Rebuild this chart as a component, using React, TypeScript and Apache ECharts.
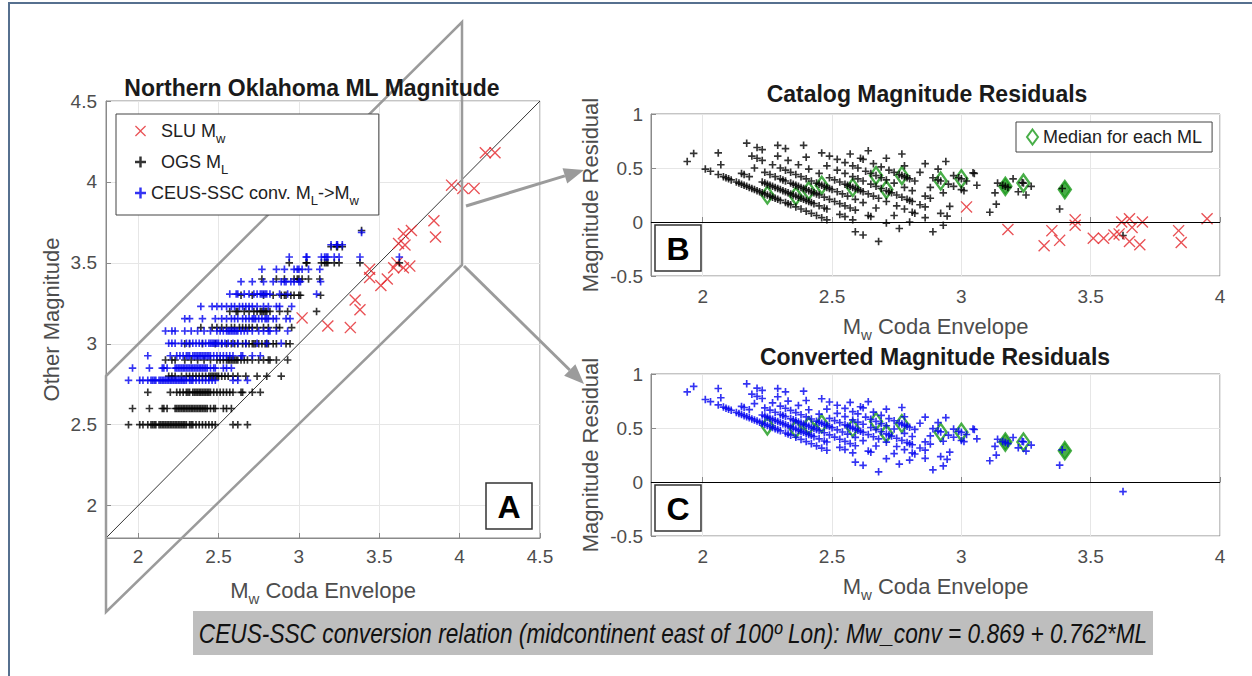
import React, { useEffect, useRef } from 'react';
import * as echarts from 'echarts';

// ---------------- DATA ----------------
// OGS local magnitude levels and their CEUS-SSC converted values (blue rows in panel A)
const mlLevels = [2.5, 2.6, 2.7, 2.8, 2.9, 3.0, 3.1, 3.2, 3.3, 3.4, 3.5, 3.6, 3.7];
const convLevels = [2.774, 2.85, 2.926, 3.003, 3.079, 3.155, 3.231, 3.307, 3.384, 3.46, 3.536, 3.612, 3.688];

// Mw coda envelope of the events for each ML level
const mwAtML25 = [1.94, 2.01, 2.03, 2.06, 2.08, 2.09, 2.1, 2.11, 2.13, 2.14, 2.15, 2.16, 2.17, 2.18, 2.19, 2.2, 2.21, 2.22, 2.23, 2.24, 2.25, 2.26, 2.27, 2.28, 2.29, 2.3, 2.32, 2.33, 2.34, 2.36, 2.38, 2.4, 2.42, 2.44, 2.46, 2.48, 2.59, 2.62, 2.68];
const mwAtML26 = [1.965, 2.07, 2.15, 2.16, 2.18, 2.23, 2.24, 2.25, 2.26, 2.27, 2.28, 2.29, 2.3, 2.31, 2.32, 2.33, 2.34, 2.35, 2.36, 2.37, 2.38, 2.39, 2.4, 2.41, 2.42, 2.43, 2.45, 2.47, 2.48, 2.53, 2.55, 2.58];
const mwAtML27 = [2.06, 2.2, 2.24, 2.26, 2.28, 2.3, 2.31, 2.32, 2.34, 2.35, 2.36, 2.37, 2.38, 2.39, 2.4, 2.41, 2.42, 2.43, 2.44, 2.45, 2.47, 2.49, 2.51, 2.53, 2.55, 2.57, 2.59, 2.64, 2.65, 2.71, 2.76];
const mwAtML28 = [2.19, 2.21, 2.23, 2.27, 2.3, 2.32, 2.34, 2.36, 2.38, 2.4, 2.42, 2.44, 2.45, 2.46, 2.47, 2.48, 2.49, 2.5, 2.52, 2.54, 2.56, 2.59, 2.62, 2.67, 2.74, 2.8, 2.89];
const mwAtML29 = [2.17, 2.21, 2.23, 2.29, 2.33, 2.37, 2.41, 2.45, 2.49, 2.51, 2.53, 2.55, 2.56, 2.57, 2.58, 2.59, 2.6, 2.61, 2.62, 2.64, 2.66, 2.68, 2.71, 2.75, 2.78, 2.81, 2.82, 2.86, 2.93];
const mwAtML30 = [2.29, 2.32, 2.4, 2.48, 2.52, 2.55, 2.58, 2.6, 2.62, 2.65, 2.67, 2.69, 2.71, 2.72, 2.73, 2.75, 2.77, 2.79, 2.8, 2.81, 2.84, 2.86, 2.92, 2.945];
const mwAtML31 = [2.39, 2.46, 2.49, 2.52, 2.55, 2.58, 2.6, 2.63, 2.65, 2.67, 2.69, 2.71, 2.74, 2.78, 2.81, 2.86, 2.88, 2.955];
const mwAtML32 = [2.57, 2.61, 2.62, 2.66, 2.69, 2.72, 2.74, 2.76, 2.77, 2.78, 2.79, 2.8, 2.82, 2.88, 2.93, 3.11];
const mwAtML33 = [2.64, 2.71, 2.78, 2.84, 2.89, 2.91, 2.92, 2.95, 2.97, 3.0, 3.01, 3.135];
const mwAtML34 = [2.77, 2.86, 2.91, 2.97, 2.99, 3.0, 3.02, 3.06, 3.13];
const mwAtML35 = [2.94, 3.045, 3.05, 3.14, 3.16, 3.17, 3.18, 3.22, 3.25, 3.38, 3.625];
const mwAtML36 = [3.2, 3.235, 3.24, 3.27];
const mwAtML37 = [3.39];
const mwByLevel = [mwAtML25, mwAtML26, mwAtML27, mwAtML28, mwAtML29, mwAtML30, mwAtML31, mwAtML32, mwAtML33, mwAtML34, mwAtML35, mwAtML36, mwAtML37];

// SLU moment magnitudes vs Mw coda envelope
const sluCoda = [3.02, 3.18, 3.32, 3.35, 3.38, 3.44, 3.44, 3.51, 3.55, 3.59, 3.61, 3.62, 3.65, 3.65, 3.66, 3.69, 3.7, 3.84, 3.85, 3.95, 4.02, 4.09, 4.16, 4.22];
const sluMw = [3.16, 3.11, 3.1, 3.27, 3.21, 3.46, 3.41, 3.36, 3.4, 3.47, 3.5, 3.62, 3.68, 3.47, 3.61, 3.48, 3.7, 3.76, 3.66, 3.98, 3.96, 3.96, 4.18, 4.18];

// Median residual for each ML
const medianMw = [2.25, 2.36, 2.41, 2.46, 2.58, 2.71, 2.67, 2.77, 2.92, 3.0, 3.17, 3.24, 3.4];
const medianResCatalog = [0.25, 0.24, 0.29, 0.34, 0.32, 0.3, 0.43, 0.43, 0.38, 0.4, 0.33, 0.36, 0.3];
const medianResConverted = [0.52, 0.49, 0.52, 0.54, 0.5, 0.45, 0.56, 0.54, 0.46, 0.46, 0.37, 0.37, 0.29];
const medianFilled = [false, false, false, false, false, false, false, false, false, false, true, false, true];

const oneToOne = [1.8, 4.5];
const zeroLevel = [0];

// ---------------- STYLE ----------------
const FONT = '"Liberation Sans", Arial, Helvetica, sans-serif';
const PLUS = 'path://M2.8 0H4.4V2.8H7.2V4.4H4.4V7.2H2.8V4.4H0V2.8H2.8Z';
const CROSS = 'path://M0 0.8L0.8 0L5 4.2L9.2 0L10 0.8L5.8 5L10 9.2L9.2 10L5 5.8L0.8 10L0 9.2L4.2 5Z';
const RED = '#e3262b';
const BLUE = '#0000f0';
const GREEN = '#1a9a1a';
const AXC = '#8a8a8a';
const LBL = '#4d4d4d';

const r3 = (v: number) => Math.round(v * 1000) / 1000;
const fmt = (v: number) => (Math.abs(v - 1.8) < 1e-6 ? '' : String(r3(v)));

function subRich(size: number) {
  return {
    m: { fontSize: size, fontFamily: FONT, color: LBL, lineHeight: size + 10, verticalAlign: 'middle' },
    s: { fontSize: Math.round(size * 0.68), fontFamily: FONT, color: LBL, lineHeight: size + 10, verticalAlign: 'bottom' },
  };
}

function valAxis(gridIndex: number, min: number, max: number, extra: any) {
  return {
    type: 'value',
    gridIndex,
    min,
    max,
    ...extra,
    axisLine: { show: true, lineStyle: { color: AXC, width: 1 } },
    axisTick: { show: true, inside: true, length: 5, lineStyle: { color: AXC } },
    splitLine: { show: true, lineStyle: { color: '#e6e6e6', width: 1 } },
    axisLabel: { fontSize: 19, color: LBL, fontFamily: FONT, margin: 9, formatter: fmt, ...(extra.axisLabel || {}) },
    nameTextStyle: { rich: subRich(22), fontSize: 22, color: LBL, fontFamily: FONT },
  };
}

function arrow(from: number[], to: number[]) {
  const dx = to[0] - from[0];
  const dy = to[1] - from[1];
  const len = Math.sqrt(dx * dx + dy * dy);
  const ux = dx / len;
  const uy = dy / len;
  const bx = to[0] - ux * 20;
  const by = to[1] - uy * 20;
  const px = -uy * 8;
  const py = ux * 8;
  return [
    { type: 'line', shape: { x1: from[0], y1: from[1], x2: bx, y2: by }, style: { stroke: '#9b9b9b', lineWidth: 3 }, z: 60 },
    { type: 'polygon', shape: { points: [[to[0], to[1]], [bx + px, by + py], [bx - px, by - py]] }, style: { fill: '#9b9b9b' }, z: 60 },
  ];
}

function letterBox(x: number, y: number, letter: string) {
  return [
    { type: 'rect', shape: { x, y, width: 46, height: 46 }, style: { fill: '#fff', stroke: '#333', lineWidth: 1.5 }, z: 70 },
    {
      type: 'text', x: x + 23, y: y + 24, z: 71,
      style: { text: letter, font: `bold 32px ${FONT}`, fill: '#000', align: 'center', verticalAlign: 'middle', textAlign: 'center', textVerticalAlign: 'middle' },
    },
  ];
}

function title(x: number, y: number, text: string) {
  return {
    type: 'text', x, y, z: 70,
    style: { text, font: `bold 23px ${FONT}`, fill: '#1a1a1a', align: 'center', verticalAlign: 'middle', textAlign: 'center', textVerticalAlign: 'middle' },
  };
}

export default function App() {
  const ref = useRef<HTMLDivElement>(null);

  useEffect(() => {
    document.body.style.margin = '0';
    const chart = echarts.init(ref.current!, null, { renderer: 'svg' });

    const ogsA: number[][] = [];
    const ceusA: number[][] = [];
    const ogsB: number[][] = [];
    const ceusC: number[][] = [];
    mwByLevel.forEach((arr, i) => {
      arr.forEach((mw) => {
        ogsA.push([mw, mlLevels[i]]);
        ceusA.push([mw, convLevels[i]]);
        ogsB.push([mw, r3(mlLevels[i] - mw)]);
        ceusC.push([mw, r3(convLevels[i] - mw)]);
      });
    });
    const sluA = sluCoda.map((c, i) => [c, sluMw[i]]);
    const sluB = sluCoda.map((c, i) => [c, r3(sluMw[i] - c)]);
    const medItems = (res: number[]) =>
      medianMw.map((m, i) => ({
        value: [m, res[i]],
        itemStyle: medianFilled[i] ? { color: GREEN, borderColor: GREEN } : undefined,
      }));

    const zeroMark = {
      silent: true,
      symbol: 'none',
      label: { show: false },
      lineStyle: { color: '#000', width: 1, type: 'solid' },
      data: zeroLevel.map((v) => ({ yAxis: v })),
    };

    const medianStyle = { color: 'rgba(255,255,255,0)', borderColor: GREEN, borderWidth: 2.5 };

    const legendLabels: Record<string, string> = {
      'SLU Mw': '{m|  SLU M}{s|w}',
      'OGS ML': '{m|  OGS M}{s|L}',
      'CEUS-SSC conv. ML->Mw': '{m|CEUS-SSC conv. M}{s|L}{m|->M}{s|w}',
    };
    const legRich = {
      m: { fontSize: 18, fontFamily: FONT, color: '#222', lineHeight: 28, verticalAlign: 'middle' },
      s: { fontSize: 13, fontFamily: FONT, color: '#222', lineHeight: 28, verticalAlign: 'bottom' },
    };

    const graphics: any[] = [
      { type: 'polyline', shape: { points: [[9, 676], [9, 3], [1252, 3]] }, style: { stroke: '#56708f', lineWidth: 2, fill: 'none' }, z: 10 },
      { type: 'polygon', shape: { points: [[106, 376], [462, 22], [462, 265], [106, 612]] }, style: { fill: 'none', stroke: '#9b9b9b', lineWidth: 2.5 }, z: 60 },
      ...arrow([466, 206], [584, 170]),
      ...arrow([464, 266], [584, 384]),
      ...letterBox(486, 483, 'A'),
      ...letterBox(655, 225, 'B'),
      ...letterBox(655, 485, 'C'),
      title(312, 88, 'Northern Oklahoma ML Magnitude'),
      title(927, 94, 'Catalog Magnitude Residuals'),
      title(935, 357, 'Converted Magnitude Residuals'),
      { type: 'rect', shape: { x: 193, y: 611, width: 960, height: 44 }, style: { fill: '#bebebe' }, z: 65 },
      {
        type: 'text', x: 673, y: 633, scaleX: 0.84, z: 66,
        style: {
          text: 'CEUS-SSC conversion relation (midcontinent east of 100º Lon): Mw_conv = 0.869 + 0.762*ML',
          font: `italic 27px ${FONT}`, fill: '#111', align: 'center', verticalAlign: 'middle', textAlign: 'center', textVerticalAlign: 'middle',
        },
      },
    ];

    const option: any = {
      animation: false,
      backgroundColor: '#fff',
      grid: [
        { left: 106, top: 101, width: 434, height: 437, show: true, borderColor: AXC, borderWidth: 1, backgroundColor: '#fff' },
        { left: 651, top: 114, width: 569, height: 162, show: true, borderColor: AXC, borderWidth: 1, backgroundColor: '#fff' },
        { left: 651, top: 374, width: 569, height: 162, show: true, borderColor: AXC, borderWidth: 1, backgroundColor: '#fff' },
      ],
      xAxis: [
        valAxis(0, 1.8, 4.5, { splitNumber: 5, name: '{m|M}{s|w}{m| Coda Envelope}', nameLocation: 'middle', nameGap: 36 }),
        valAxis(1, 1.8, 4, { splitNumber: 5, name: '{m|M}{s|w}{m| Coda Envelope}', nameLocation: 'middle', nameGap: 34, axisLabel: { margin: 11 } }),
        valAxis(2, 1.8, 4, { splitNumber: 5, name: '{m|M}{s|w}{m| Coda Envelope}', nameLocation: 'middle', nameGap: 34, axisLabel: { margin: 11 } }),
      ],
      yAxis: [
        valAxis(0, 1.8, 4.5, { splitNumber: 5, name: 'Other Magnitude', nameLocation: 'middle', nameGap: 44 }),
        valAxis(1, -0.5, 1, { interval: 0.5, name: 'Magnitude Residual', nameLocation: 'middle', nameGap: 50, axisLabel: { margin: 8 } }),
        valAxis(2, -0.5, 1, { interval: 0.5, name: 'Magnitude Residual', nameLocation: 'middle', nameGap: 50, axisLabel: { margin: 8 } }),
      ],
      legend: [
        {
          orient: 'vertical', left: 116, top: 114,
          padding: [8, 20, 8, 19], itemGap: 8, itemWidth: 11, itemHeight: 11,
          backgroundColor: '#fff', borderColor: '#444', borderWidth: 1,
          data: ['SLU Mw', 'OGS ML', 'CEUS-SSC conv. ML->Mw'],
          formatter: (n: string) => legendLabels[n] || n,
          textStyle: { fontSize: 18, fontFamily: FONT, color: '#222', rich: legRich },
          selectedMode: false, z: 80,
        },
        {
          orient: 'horizontal', left: 1016, top: 122,
          padding: [3, 10, 3, 10], itemWidth: 11, itemHeight: 15,
          backgroundColor: '#fff', borderColor: '#444', borderWidth: 1,
          data: ['Median for each ML'],
          textStyle: { fontSize: 18, fontFamily: FONT, color: '#222', lineHeight: 24 },
          selectedMode: false, z: 80,
        },
      ],
      series: [
        {
          type: 'line', xAxisIndex: 0, yAxisIndex: 0, symbol: 'none', silent: true,
          lineStyle: { color: '#000', width: 0.8 },
          data: oneToOne.map((v) => [v, v]), z: 1,
        },
        { name: 'SLU Mw', type: 'scatter', xAxisIndex: 0, yAxisIndex: 0, symbol: CROSS, symbolSize: 12, itemStyle: { color: RED }, data: sluA, z: 3 },
        { name: 'OGS ML', type: 'scatter', xAxisIndex: 0, yAxisIndex: 0, symbol: PLUS, symbolSize: 7.5, itemStyle: { color: '#000' }, data: ogsA, z: 3 },
        { name: 'CEUS-SSC conv. ML->Mw', type: 'scatter', xAxisIndex: 0, yAxisIndex: 0, symbol: PLUS, symbolSize: 7.5, itemStyle: { color: BLUE }, data: ceusA, z: 4 },

        { name: 'Median for each ML', type: 'scatter', xAxisIndex: 1, yAxisIndex: 1, symbol: 'diamond', symbolSize: [12, 17], itemStyle: medianStyle, data: medItems(medianResCatalog), z: 2 },
        { name: 'OGS residual', type: 'scatter', xAxisIndex: 1, yAxisIndex: 1, symbol: PLUS, symbolSize: 7.5, itemStyle: { color: '#000' }, data: ogsB, markLine: zeroMark, z: 3, clip: true },
        { name: 'SLU residual', type: 'scatter', xAxisIndex: 1, yAxisIndex: 1, symbol: CROSS, symbolSize: 12, itemStyle: { color: RED }, data: sluB, z: 3, clip: true },

        { name: 'Median for each ML', type: 'scatter', xAxisIndex: 2, yAxisIndex: 2, symbol: 'diamond', symbolSize: [12, 17], itemStyle: medianStyle, data: medItems(medianResConverted), z: 2 },
        { name: 'Converted residual', type: 'scatter', xAxisIndex: 2, yAxisIndex: 2, symbol: PLUS, symbolSize: 7.5, itemStyle: { color: BLUE }, data: ceusC, markLine: zeroMark, z: 3, clip: true },
      ],
      graphic: graphics,
    };

    chart.setOption(option);
    return () => chart.dispose();
  }, []);

  return <div ref={ref} style={{ width: 1252, height: 676 }} />;
}
